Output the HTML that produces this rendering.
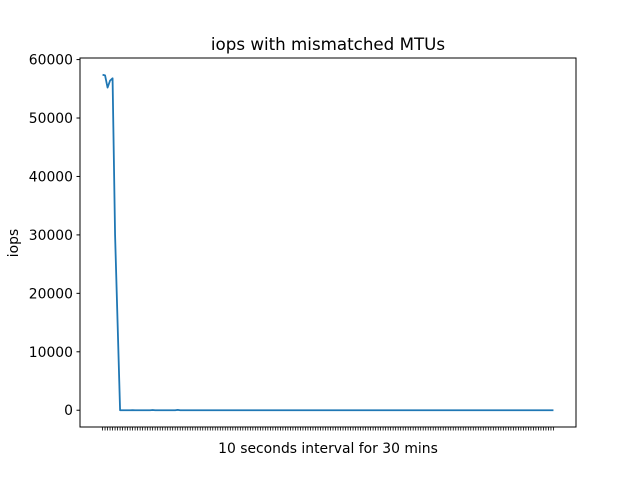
<!DOCTYPE html>
<html><head><meta charset="utf-8"><style>
body{margin:0;background:#fff;}
svg{display:block;font-family:"DejaVu Sans","Liberation Sans",sans-serif;}
</style></head><body>
<svg id="chart" width="640" height="480" viewBox="0 0 640 480">
<rect width="640" height="480" fill="#fff"/>
<text x="328" y="50" font-size="16.7" text-anchor="middle">iops with mismatched MTUs</text>
<g id="ticks"></g>
<path id="line" fill="none" stroke="#1f77b4" stroke-width="1.8" stroke-linejoin="round"/>
<rect x="80" y="58" width="496" height="369" fill="none" stroke="#000" stroke-width="1"/>
<text x="328" y="453" font-size="13.9" text-anchor="middle">10 seconds interval for 30 mins</text>
<text x="18" y="243" font-size="13.9" text-anchor="middle" transform="rotate(-90 18 243)">iops</text>
</svg>
<script>
const headValues = [57400, 57300, 55200, 56400, 56800, 30000, 15000, 0, 0, 0, 0, 0, 20, 0, 0, 0, 0, 0, 0, 0, 40, 0, 0, 0, 0, 0, 0, 0, 0, 0, 60, 0];
const totalPoints = 181;
const values = headValues.concat(new Array(totalPoints - headValues.length).fill(0));
const yTicks = [0, 10000, 20000, 30000, 40000, 50000, 60000];
const yTickLabels = ["0", "10000", "20000", "30000", "40000", "50000", "60000"];

const L = 80, R = 576, T = 58, B = 427;
const n = values.length;
const xMin = -(n - 1) * 0.05, xMax = (n - 1) * 1.05;
const vMax = Math.max(...values), vMin = Math.min(...values);
const yLo = vMin - (vMax - vMin) * 0.05, yHi = vMax + (vMax - vMin) * 0.05;
function xs(i) { return L + (i - xMin) / (xMax - xMin) * (R - L); }
function ys(v) { return B - (v - yLo) / (yHi - yLo) * (B - T); }

const NS = "http://www.w3.org/2000/svg";
const g = document.getElementById('ticks');
yTicks.forEach((v, k) => {
  const y = ys(v);
  const t = document.createElementNS(NS, 'line');
  t.setAttribute('x1', L - 3.5); t.setAttribute('x2', L);
  t.setAttribute('y1', y); t.setAttribute('y2', y);
  t.setAttribute('stroke', '#000');
  
  
  g.appendChild(t);
  const tx = document.createElementNS(NS, 'text');
  tx.setAttribute('x', L - 7); tx.setAttribute('y', y + 5);
  tx.setAttribute('font-size', '13.9'); tx.setAttribute('text-anchor', 'end');
  tx.textContent = yTickLabels[k];
  
  
  g.appendChild(tx);
});
for (let i = 0; i < n; i++) {
  const x = xs(i);
  const t = document.createElementNS(NS, 'line');
  t.setAttribute('x1', x); t.setAttribute('x2', x);
  t.setAttribute('y1', B); t.setAttribute('y2', B + 3.5);
  t.setAttribute('stroke', '#000'); t.setAttribute('stroke-width', '0.8');
  
  
  g.appendChild(t);
}
let d = '';
values.forEach((v, i) => { d += (i ? 'L' : 'M') + xs(i).toFixed(2) + ',' + ys(v).toFixed(2); });
document.getElementById('line').setAttribute('d', d);
</script>
</body></html>
